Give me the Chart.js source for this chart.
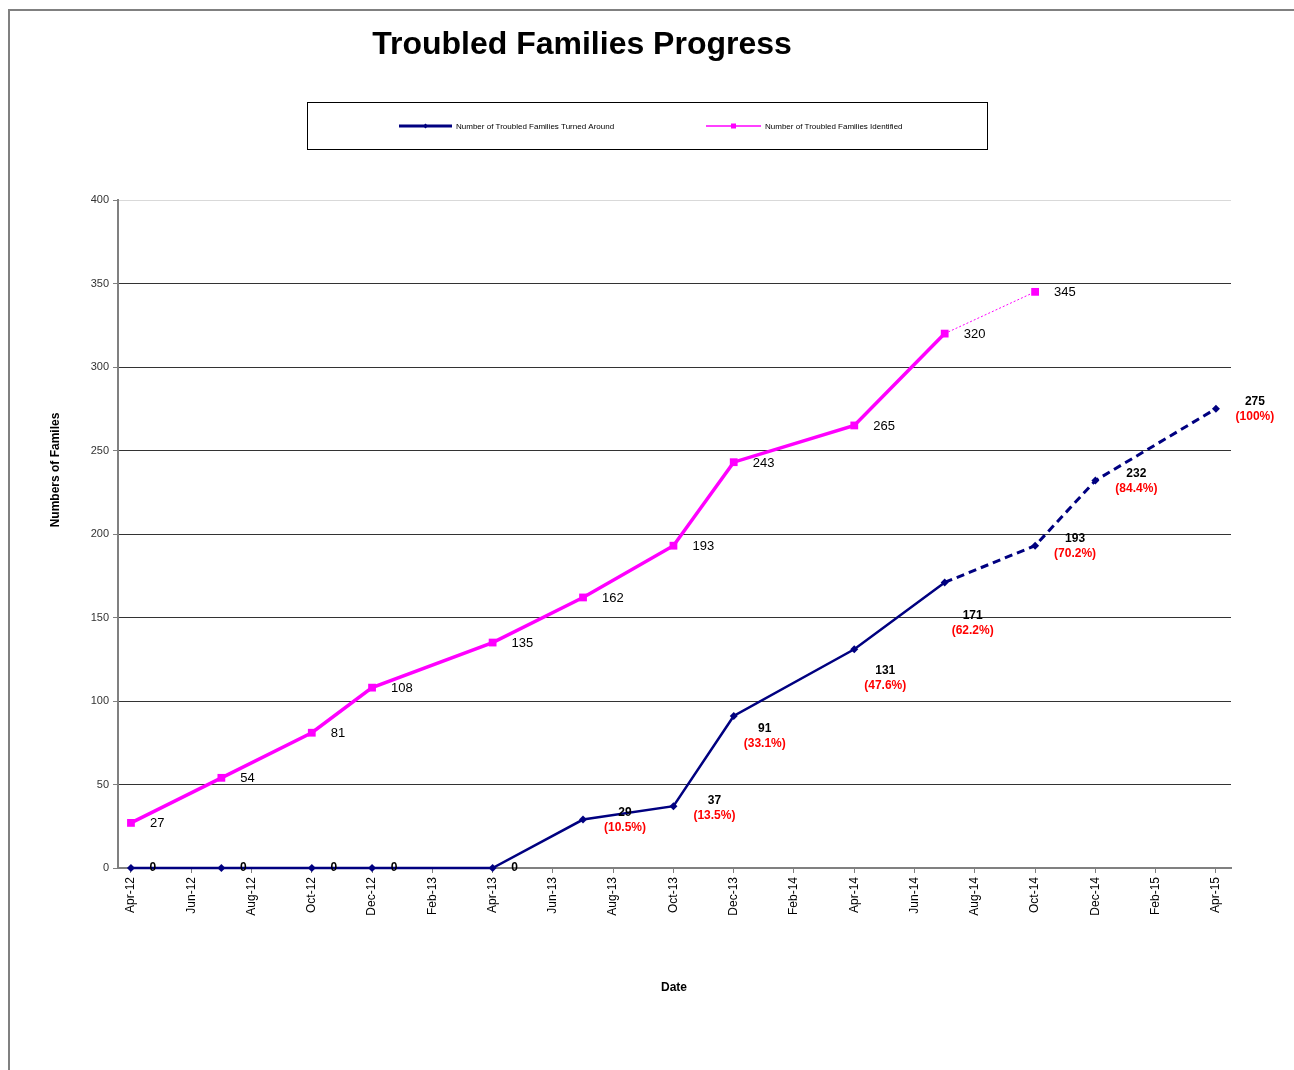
<!DOCTYPE html>
<html>
<head>
<meta charset="utf-8">
<script src="https://cdn.jsdelivr.net/npm/chart.js@4"></script>
<style>
  body { margin: 0; background: #fff; }
  canvas { display: block; }
</style>
</head>
<body>
<canvas id="myChart" width="1294" height="1070"></canvas>
<script>
// Dados (meses contados a partir de Apr-12)
const pointMonths = [0, 3, 6, 8, 12, 15, 18, 20, 24, 27, 30, 32, 36];
const pointDates = ['Apr-12', 'Jul-12', 'Oct-12', 'Dec-12', 'Apr-13', 'Jul-13', 'Oct-13', 'Dec-13', 'Apr-14', 'Jul-14', 'Oct-14', 'Dec-14', 'Apr-15'];
const turnedAround = [0, 0, 0, 0, 0, 29, 37, 91, 131, 171, 193, 232, 275];
const turnedPct = ['', '', '', '', '', '(10.5%)', '(13.5%)', '(33.1%)', '(47.6%)', '(62.2%)', '(70.2%)', '(84.4%)', '(100%)'];
const identified = [27, 54, 81, 108, 135, 162, 193, 243, 265, 320, 345];
const tickLabels = ['Apr-12', 'Jun-12', 'Aug-12', 'Oct-12', 'Dec-12', 'Feb-13', 'Apr-13', 'Jun-13', 'Aug-13', 'Oct-13', 'Dec-13', 'Feb-14', 'Apr-14', 'Jun-14', 'Aug-14', 'Oct-14', 'Dec-14', 'Feb-15', 'Apr-15'];
const yTicks = [0, 50, 100, 150, 200, 250, 300, 350, 400];

const FONT = '"Liberation Sans", Arial, sans-serif';
const NAVY = '#000080';
const MAGENTA = '#FF00FF';
const lastActual = 9; // depois de Jul-14 as linhas ficam tracejadas

// deslocamento dos rótulos (estilo Excel, posicionados à mão)
const turnedLabelOffset = [[22, 0], [22, 0], [22, 0], [22, 0], [22, 0], [42, -7], [41, -6], [31, 13], [31, 21], [28, 33], [40, -7], [41, -7], [39, -7]];

const decor = {
    id: 'decor',
    beforeDraw(chart) {
        const c = chart.ctx;
        c.save();
        c.fillStyle = '#fff';
        c.fillRect(0, 0, chart.width, chart.height);
        // moldura
        c.strokeStyle = '#808080';
        c.lineWidth = 2;
        c.beginPath();
        c.moveTo(9, chart.height);
        c.lineTo(9, 10);
        c.lineTo(chart.width, 10);
        c.stroke();
        c.restore();
    },
    afterDraw(chart) {
        const c = chart.ctx;
        c.save();
        // título
        c.fillStyle = '#000';
        c.font = 'bold 32px ' + FONT;
        c.textAlign = 'center';
        c.textBaseline = 'middle';
        c.fillText('Troubled Families Progress', 582, 45);

        // legenda
        c.strokeStyle = '#000';
        c.lineWidth = 1;
        c.strokeRect(307.5, 102.5, 680, 47);
        const ds = chart.data.datasets;
        const items = [
            { ds: ds[0], x0: 399, x1: 452, tx: 456, w: 3, style: 'diamond' },
            { ds: ds[1], x0: 706, x1: 761, tx: 765, w: 1.5, style: 'square' }
        ];
        c.font = '8px ' + FONT;
        c.textAlign = 'left';
        items.forEach(it => {
            c.strokeStyle = it.ds.borderColor;
            c.lineWidth = it.w;
            c.beginPath();
            c.moveTo(it.x0, 126);
            c.lineTo(it.x1, 126);
            c.stroke();
            const mx = (it.x0 + it.x1) / 2;
            c.fillStyle = it.ds.borderColor;
            if (it.style === 'square') {
                c.fillRect(mx - 2.5, 123.5, 5, 5);
            } else {
                c.beginPath();
                c.moveTo(mx, 123.5); c.lineTo(mx + 2.5, 126); c.lineTo(mx, 128.5); c.lineTo(mx - 2.5, 126);
                c.fill();
            }
            c.fillStyle = '#000';
            c.fillText(it.ds.label, it.tx, 126.5);
        });

        // títulos dos eixos
        c.font = 'bold 12px ' + FONT;
        c.textAlign = 'center';
        c.fillText('Date', 674, 988);
        c.translate(56, 470);
        c.rotate(-Math.PI / 2);
        c.fillText('Numbers of Familes', 0, 0);
        c.restore();
    },
    afterDatasetsDraw(chart) {
        const c = chart.ctx;
        c.save();
        c.textBaseline = 'middle';
        // rótulos dos identificados
        const m1 = chart.getDatasetMeta(1);
        c.font = '13px ' + FONT;
        c.fillStyle = '#000';
        c.textAlign = 'left';
        m1.data.forEach((p, i) => {
            c.fillText(String(identified[i]), p.x + 19, p.y + 1);
        });
        // rótulos dos "turned around"
        const m0 = chart.getDatasetMeta(0);
        c.textAlign = 'center';
        m0.data.forEach((p, i) => {
            const [dx, dy] = turnedLabelOffset[i];
            c.font = 'bold 12px ' + FONT;
            c.fillStyle = '#000';
            c.fillText(String(turnedAround[i]), p.x + dx, p.y + dy);
            if (turnedPct[i]) {
                c.fillStyle = '#FF0000';
                c.fillText(turnedPct[i], p.x + dx, p.y + dy + 15);
            }
        });
        c.restore();
    }
};

const ctx = document.getElementById('myChart').getContext('2d');
const myChart = new Chart(ctx, {
    type: 'line',
    data: {
        datasets: [{
            label: 'Number of Troubled Families Turned Around',
            data: turnedAround.map((v, i) => ({ x: pointMonths[i], y: v })),
            borderColor: NAVY,
            backgroundColor: NAVY,
            borderWidth: 2.5,
            pointStyle: 'rectRot',
            pointRadius: 4,
            pointBorderWidth: 0,
            tension: 0,
            clip: 8,
            segment: {
                borderDash: s => s.p0DataIndex >= lastActual ? [8, 5] : undefined,
                borderWidth: s => s.p0DataIndex >= lastActual ? 3 : 2.5
            }
        }, {
            label: 'Number of Troubled Families Identified',
            data: identified.map((v, i) => ({ x: pointMonths[i], y: v })),
            borderColor: MAGENTA,
            backgroundColor: MAGENTA,
            borderWidth: 3.5,
            pointStyle: 'rect',
            pointRadius: 5.5,
            pointBorderWidth: 0,
            tension: 0,
            clip: 8,
            segment: {
                borderDash: s => s.p0DataIndex >= lastActual ? [2, 2] : undefined,
                borderWidth: s => s.p0DataIndex >= lastActual ? 1 : 3.5
            }
        }]
    },
    options: {
        responsive: false,
        animation: false,
        devicePixelRatio: 1,
        layout: { padding: { left: 0, top: 200, right: 63, bottom: 0 } },
        plugins: {
            legend: { display: false },
            title: { display: false },
            tooltip: { enabled: false }
        },
        scales: {
            x: {
                type: 'linear',
                min: -0.43,
                max: 36.5,
                afterFit: s => { s.height = 202; },
                afterBuildTicks: s => { s.ticks = tickLabels.map((_, i) => ({ value: i * 2 })); },
                ticks: {
                    autoSkip: false,
                    minRotation: 90,
                    maxRotation: 90,
                    padding: 4,
                    color: '#000',
                    font: { family: FONT, size: 12 },
                    callback: (v) => tickLabels[Math.round(v / 2)]
                },
                grid: { drawOnChartArea: false, drawTicks: true, tickLength: 5, tickColor: '#808080' },
                border: { color: '#808080', width: 2 }
            },
            y: {
                min: 0,
                max: 400,
                afterFit: s => { s.width = 118; },
                afterBuildTicks: s => { s.ticks = yTicks.map(v => ({ value: v })); },
                ticks: {
                    padding: 4,
                    color: '#333',
                    font: { family: FONT, size: 11 }
                },
                grid: {
                    color: g => g.tick && g.tick.value === 400 ? '#d9d9d9' : '#333',
                    lineWidth: 1,
                    tickLength: 5,
                    tickColor: '#808080'
                },
                border: { color: '#808080', width: 2 }
            }
        }
    },
    plugins: [decor]
});
</script>
</body>
</html>
